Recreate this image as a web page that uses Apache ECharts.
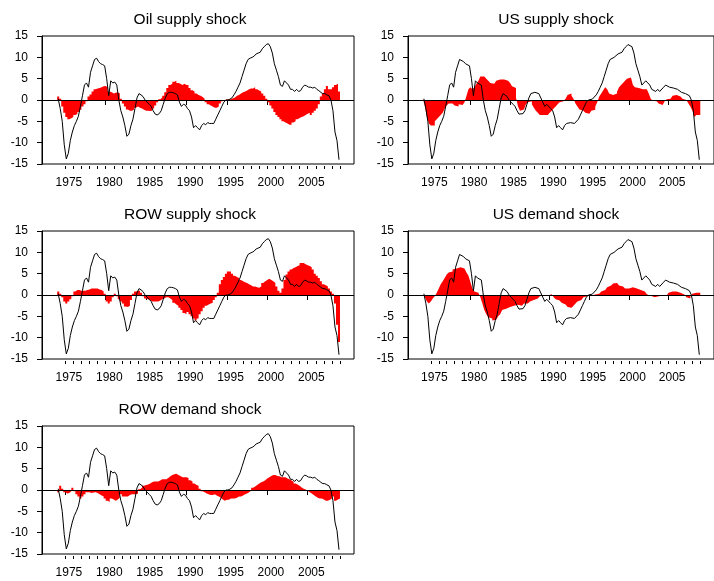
<!DOCTYPE html>
<html><head><meta charset="utf-8">
<script src="https://cdn.jsdelivr.net/npm/echarts@6/dist/echarts.min.js"></script>
<style>html,body{margin:0;padding:0;background:#fff}#c{width:714px;height:581px}</style>
</head><body><div id="c"></div>
<script>
// Quarterly observations, 1974Q1 .. 2008Q4
const FIRST_YEAR = 1974, STEP = 0.25;
const titles = ['Oil supply shock', 'US supply shock', 'ROW supply shock', 'US demand shock', 'ROW demand shock'];
const majorTickYears = [1975, 1980, 1985, 1990, 1995, 2000, 2005];
const labelYears = [1975, 1980, 1985, 1990, 1995, 2000, 2005];
const minorTickYears = [1975,1976,1977,1978,1979,1980,1981,1982,1983,1984,1985,1986,1987,1988,1989,1990,1991,1992,1993,1994,1995,1996,1997,1998,1999,2000,2001,2002,2003,2004,2005,2006,2007,2008,2009];
const yTicks = [-15, -10, -5, 0, 5, 10, 15];

const actual = [
0.3,-2,-5,-10.5,-13.8,-12.5,-9.5,-7.5,
-6,-5,-3.8,-1.5,1,3.5,4,3,
6.5,8,9.5,9.8,9,8.5,8.3,8,
5,1,4.5,4,4.2,3.5,0,-2.5,
-4,-6,-8.5,-8,-6,-4.5,-2,0.5,
1.5,1.2,0.8,0,-0.5,-1,-1.5,-2.5,
-3.3,-3.5,-3.2,-2.5,-1,0.5,1.5,1.8,
1.8,1.7,1.5,1.2,-0.5,-1.5,-1,-1.2,
-2,-2.5,-4,-6.5,-6,-6.5,-7,-6,
-5.5,-5.8,-5.3,-5.5,-5.5,-5.5,-4.5,-3.5,
-2.5,-1.5,-0.5,0,0,0.2,0.5,1.2,
2,3,4,5.5,7,8.5,9.5,9.8,
10,10.3,10.8,11,11.2,12,12.5,13,
13.2,12.5,11,8.5,7,5.5,3.5,3.2,
4.5,4,3.5,2.5,2.5,2,2.5,2,
2.2,3,3.5,3.3,3,3,2.8,3,
2.5,2.2,1.8,1.5,1.5,1.2,1,0,
-2.5,-7.5,-9.5,-14];

const oilSupply = [
0.8,0.3,-1.5,-3,-4,-4.5,-4.3,-4,
-3.5,-3.3,-2.8,-2.3,-1.5,-1,-0.3,0.8,
1.3,2,2.5,2.7,2.8,3,3.2,3.3,
3,2,1.8,1.5,1.7,1.8,1.5,0.3,
-0.8,-1.5,-2.2,-2.5,-2.5,-2.3,-1.8,-1.5,
-1.8,-2,-2.3,-2.5,-2.5,-2.6,-2.5,-2,
-1.3,-0.5,0.2,0.5,1,1.8,2.8,3.5,
3.8,4.3,4.5,4,3.8,3.5,3.8,3.5,
3.5,2.8,2.3,2,1.5,1.2,1,0.7,
0.3,-0.5,-1,-1.3,-1.5,-1.8,-1.8,-1.5,
-0.8,-0.3,0,0.1,0.2,0.2,0.4,0.6,
1,1.2,1.5,1.8,2,2.2,2.5,2.7,
2.7,3,2.5,2.2,2,1.5,1,0.3,
-0.5,-1.3,-2,-2.8,-3.5,-4,-4.5,-5,
-5.3,-5.5,-5.8,-5.8,-5.3,-5,-4.5,-4.2,
-4,-3.8,-3.5,-3.2,-3,-3.5,-3,-2.5,
-2,-1,0.8,1.5,2.5,3.3,2.5,2.5,
3,3.5,3.8,2];

const usSupply = [
0.3,-1.5,-4,-5.5,-6,-6,-5,-4.5,
-4,-3.5,-3,-2,-1.3,-0.8,-0.8,-1,
-1.3,-1.5,-1,-1.2,-1.5,-0.5,1,2.5,
3,2.5,3,3.8,4.5,5.5,5.5,5.5,
5,4.5,4,3.8,4.2,4.5,4.8,4.8,
4.8,4.8,4.5,4.5,4,3.2,2.8,0.5,
-1.5,-2.5,-2.2,-1.8,-1,-0.5,-0.3,-1,
-1.8,-2.5,-3,-3.5,-3.5,-3.8,-3.5,-3.2,
-3,-2.5,-2,-1.5,-1,-0.5,-0.3,-0.2,
0.3,1.2,1.5,1,0.3,-0.8,-1.5,-2.2,
-2.5,-2.8,-3,-3.2,-3,-2.5,-2.3,-1.5,
-0.5,0.8,1.5,2.3,3,2.5,1.5,1.2,
1,1.5,2,3,3.5,4,4.5,5,
5.3,5.5,3.5,3,2.8,2.8,2.5,2.5,
2.5,2.2,1.5,0.3,-0.2,-0.3,-0.5,-0.8,
-1.2,-0.8,-0.3,0.2,0.3,0.5,1,1.2,
1.2,0.8,0.5,0.3,0,-0.3,-0.8,-1.5,
-2.5,-4,-3.5,-3.5];

const rowSupply = [
0.8,0.3,-0.5,-1.5,-2,-1.5,-1,-0.3,
0.8,1.2,1.2,1,1,1,1.2,1.3,
1.5,1.5,1.5,1.5,1.3,1.2,0.8,0.3,
-1.5,-2,-1.5,-0.5,0.3,-0.3,-1,-1.5,
-2,-2.7,-2.8,-2.5,-1.2,0.3,0.8,1,
1,0.5,-0.3,-0.8,-1,-1.2,-1.5,-1.5,
-1.5,-1.5,-1.3,-1,-0.8,-0.5,-0.5,-0.8,
-1.2,-1.8,-2.2,-2.5,-3,-3.5,-4.2,-4.5,
-4,-4.5,-5,-5.5,-6,-5.5,-4.5,-3.8,
-3,-2.5,-2.2,-2,-1.8,-1.2,-0.5,0.5,
2.5,3.5,4.2,5,5.5,5.5,5,4.5,
4.2,4,3.5,3.2,3,2.8,2.5,2.3,
2,2,1.8,1.7,2,2.8,3.2,3.5,
3.8,3.5,3.2,2.8,2,1,0.5,1.5,
3.5,4.8,5.5,6,6.3,6.5,6.8,7,
7.5,7.5,7.2,7,6.8,6.5,6,5,
4.5,4,3.2,2.5,2.3,2,1.5,0.8,
0.3,-2,-7,-11];

const usDemand = [
0,-0.5,-1.5,-2,-1.5,-0.8,-0.3,0.5,
1.5,2.5,3.2,4,4.8,5.3,5.5,6,
6.2,6.5,6.5,6.5,6.2,5.8,5.3,4.5,
3,1.5,0.8,0.5,0.3,-0.5,-2,-3.5,
-4.5,-5.2,-5.5,-6,-5.8,-5.5,-5,-4.5,
-3.5,-3.2,-3,-2.8,-2.6,-2.5,-2.5,-2.3,
-2.2,-2.5,-2.3,-2,-2,-1.8,-1.5,-1.2,
-1,-0.8,-0.5,-0.3,-0.2,-0.2,-0.2,-0.1,
0.2,0.2,-0.5,-1,-1.3,-1.5,-1.8,-2.2,
-2.5,-2.8,-3,-2.8,-2.5,-2,-1.5,-1.2,
-0.8,-0.5,-0.3,-0.2,-0.1,-0.1,0.1,0.2,
0.3,0.5,0.8,1.2,1.5,1.8,2.2,2.5,
2.7,2.8,2.5,2.2,2,1.8,1.5,1.5,
1.5,1.8,1.5,1.5,1.3,1.2,1,0.8,
0.5,0.2,-0.2,-0.3,-0.5,-0.4,-0.3,-0.3,
-0.2,-0.2,-0.1,0.2,0.5,0.8,1,0.8,
0.6,0.5,0.3,0.1,-0.3,-0.5,-0.8,-0.3,
0.3,0.5,0.8,0.5];

const rowDemand = [
-0.5,1,0.3,-0.5,-0.8,-0.7,-0.3,0.5,
-0.3,-1,-1.5,-2,-1.5,-1,-0.5,-0.5,
-0.7,-0.6,-0.5,-0.7,-1,-1.3,-1.5,-2,
-2.5,-2.8,-2,-2.2,-2.5,-2.2,-1.8,-1,
-1.5,-1.5,-1.5,-1.2,-1,-1,-1,-0.8,
0.2,0.5,1,1.2,1.3,1.5,1.8,2,
2,2,2.2,2.5,2.5,2.5,2.8,3.2,
3.5,3.7,3.8,3.5,3.3,3,3,3,
2.8,2.3,2,1.5,1.2,1,0.3,-0.3,
-0.5,-0.8,-1,-1.2,-1.2,-1,-1.3,-1.5,
-1.8,-2.2,-2.5,-2.3,-2.3,-2,-2,-2,
-1.8,-1.5,-1.5,-1.3,-1,-0.8,-0.5,-0.2,
0.5,0.8,1.2,1.5,1.8,2,2.3,2.7,
3,3.3,3.5,3.5,3.3,3.2,3,3,
3,2.7,2.5,2.2,2,1.5,1.3,1,
0.6,0.3,0.1,-0.2,-0.5,-0.8,-1.2,-1.5,
-1.8,-2,-2,-2.2,-2.5,-2.5,-2.3,-2,
-1.5,-2.5,-2.2,-2];

const shocks = [oilSupply, usSupply, rowSupply, usDemand, rowDemand];
const FONT = '"Liberation Sans", Arial, Helvetica, sans-serif';
const XMIN = 1972.12, XMAX = 2010.73;
// line: each quarter at its midpoint
const linePairs = arr => arr.map((v, k) => [FIRST_YEAR + STEP * k + STEP / 2, v]);
// bars: each quarter spans [quarter start, quarter end]; step 'end' holds the value across the quarter
const barPairs = arr => arr.map((v, k) => [FIRST_YEAR + STEP * k, v])
  .concat([[FIRST_YEAR + STEP * arr.length, arr[arr.length - 1]]]);

const grid = [], xAxis = [], yAxis = [], series = [], title = [];
shocks.forEach((vals, i) => {
  const col = i % 2, row = Math.floor(i / 2);
  const left = col === 0 ? 42 : 408;
  const top = 36 + 195 * row;
  grid.push({left: left, top: top, width: 312, height: 128, show: true,
    borderColor: '#000', borderWidth: 1, backgroundColor: 'transparent', containLabel: false});
  title.push({text: titles[i], left: left + 143, top: top - 29, textAlign: 'center',
    textStyle: {fontFamily: FONT, fontSize: 15.5, fontWeight: 'normal', color: '#000'}});
  xAxis.push({gridIndex: i, type: 'value', min: XMIN, max: XMAX, position: 'bottom', offset: 2,
    axisLine: {show: false}, splitLine: {show: false},
    axisTick: {show: true, length: 5, customValues: majorTickYears, lineStyle: {color: '#000', width: 1}},
    axisLabel: {show: true, customValues: labelYears.map(y => y + 0.45), formatter: v => String(Math.floor(v)),
      margin: 11, fontSize: 12, color: '#000', fontFamily: FONT}});
  xAxis.push({gridIndex: i, type: 'value', min: XMIN, max: XMAX, position: 'bottom', offset: 2,
    axisLine: {show: false}, splitLine: {show: false},
    axisTick: {show: true, length: 3, customValues: minorTickYears, lineStyle: {color: '#000', width: 1}},
    axisLabel: {show: false}});
  yAxis.push({gridIndex: i, type: 'value', min: -15, max: 15, interval: 5,
    axisLine: {show: true, lineStyle: {color: '#000', width: 1}},
    axisTick: {show: true, length: 5, lineStyle: {color: '#000', width: 1}},
    splitLine: {show: false},
    axisLabel: {margin: 14, fontSize: 12, color: '#000', fontFamily: FONT}});
  // contiguous quarterly bars drawn as a stepped filled area down to zero
  series.push({type: 'line', xAxisIndex: 2 * i, yAxisIndex: i, data: barPairs(vals), step: 'end',
    showSymbol: false, symbol: 'none', lineStyle: {width: 0, opacity: 0},
    areaStyle: {color: '#ff0000', opacity: 1, origin: 0}, silent: true, z: 2});
  series.push({type: 'line', xAxisIndex: 2 * i, yAxisIndex: i, data: linePairs(actual), showSymbol: false,
    symbol: 'none', lineStyle: {color: '#000', width: 1}, silent: true, z: 5,
    markLine: {silent: true, symbol: 'none', label: {show: false}, animation: false,
      lineStyle: {color: '#000', width: 1, type: 'solid'}, data: [{yAxis: 0}]}});
});

const chart = echarts.init(document.getElementById('c'), null, {renderer: 'canvas'});
chart.setOption({animation: false, backgroundColor: '#fff', title, grid, xAxis, yAxis, series});
</script>
</body></html>
